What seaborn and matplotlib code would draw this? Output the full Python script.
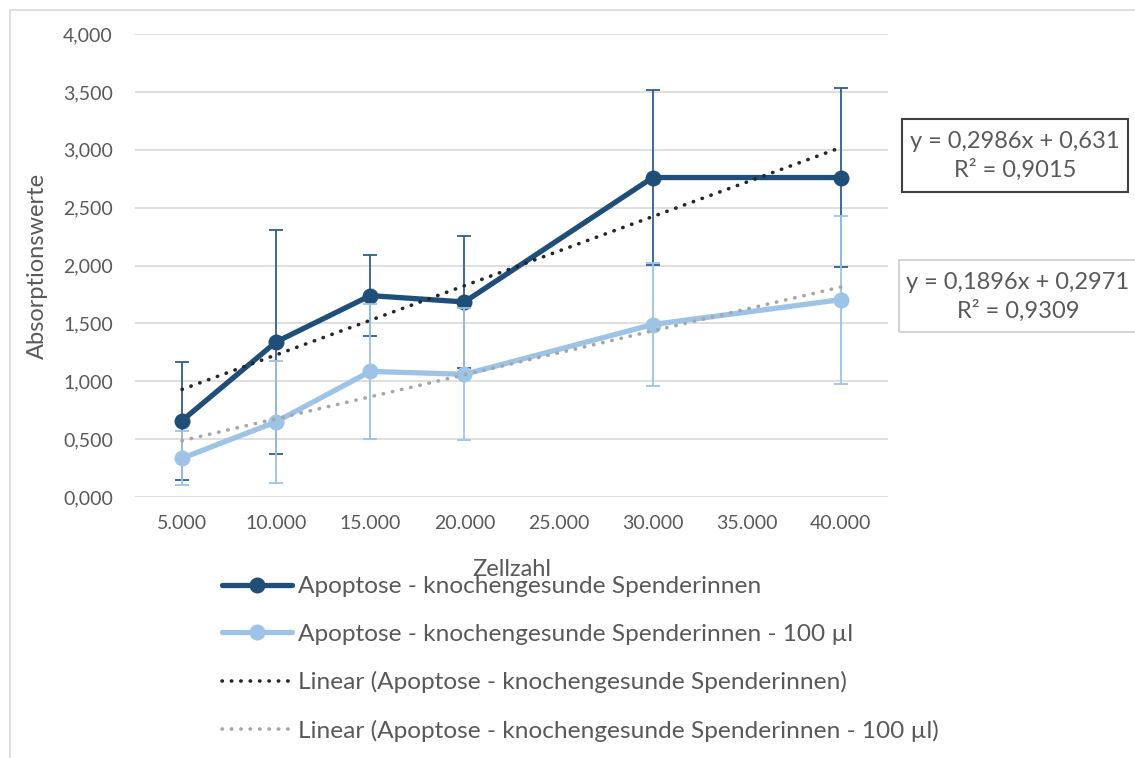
import numpy as np
import pandas as pd
import matplotlib
matplotlib.use("Agg")
import matplotlib.pyplot as plt
from matplotlib.lines import Line2D
from matplotlib.patches import Rectangle
import seaborn as sns

# Zellzahl categories (25.000 and 35.000 have no measurements)
categories = ["5.000", "10.000", "15.000", "20.000", "25.000", "30.000", "35.000", "40.000"]

# Mean absorption values and standard deviations
apoptose = [0.66, 1.34, 1.74, 1.685, np.nan, 2.76, np.nan, 2.76]
apoptose_sd = [0.51, 0.97, 0.35, 0.57, np.nan, 0.755, np.nan, 0.775]
apoptose_100 = [0.335, 0.65, 1.085, 1.06, np.nan, 1.49, np.nan, 1.705]
apoptose_100_sd = [0.235, 0.525, 0.585, 0.57, np.nan, 0.53, np.nan, 0.725]

# Linear trend lines (x = category number 1..8)
trend_slope = [0.2986, 0.1896]
trend_intercept = [0.631, 0.2971]
r_squared = [0.9015, 0.9309]

series_names = [
    "Apoptose - knochengesunde Spenderinnen",
    "Apoptose - knochengesunde Spenderinnen - 100 µl",
]
y_ticks = [0.0, 0.5, 1.0, 1.5, 2.0, 2.5, 3.0, 3.5, 4.0]

DARK = "#1F4E79"
DARK_ERR = "#2E5E8E"
LIGHT = "#9DC3E6"
TREND_DARK = "#262626"
TREND_LIGHT = "#A6A6A6"
TEXT = "#595959"
GRID = "#D9D9D9"

sns.set_theme(style="white")
plt.rcParams["font.family"] = ["Lato", "DejaVu Sans"]

fig = plt.figure(figsize=(11.35, 7.58), dpi=100)
ax = fig.add_axes([135 / 1135, 1 - 497 / 758, 753 / 1135, 463 / 758])

pos = np.arange(len(categories))
df = pd.DataFrame({
    "pos": np.concatenate([pos, pos]),
    "wert": apoptose + apoptose_100,
    "sd": apoptose_sd + apoptose_100_sd,
    "serie": [series_names[0]] * len(pos) + [series_names[1]] * len(pos),
}).dropna()

colors = [DARK, LIGHT]
err_colors = [DARK_ERR, LIGHT]
for i, name in enumerate(series_names):
    sub = df[df["serie"] == name]
    ax.errorbar(sub["pos"], sub["wert"], yerr=sub["sd"], fmt="none",
                ecolor=err_colors[i], elinewidth=1.3, capsize=4.8, capthick=1.3,
                zorder=2 + 2 * i)
    sns.lineplot(data=sub, x="pos", y="wert", color=colors[i], linewidth=3.8,
                 marker="o", markersize=11.5, markeredgewidth=0, sort=False,
                 legend=False, ax=ax, zorder=3 + 2 * i)

# Trend lines from the fitted equations
trend_colors = [TREND_DARK, TREND_LIGHT]
dot_style = (0, (0.1, 2.5))
for i in range(2):
    tdf = pd.DataFrame({"pos": pos, "wert": trend_slope[i] * (pos + 1) + trend_intercept[i]})
    sns.lineplot(data=tdf, x="pos", y="wert", color=trend_colors[i], linewidth=2.6,
                 legend=False, ax=ax, zorder=8)
    ln = ax.lines[-1]
    ln.set_linestyle(dot_style)
    ln.set_dash_capstyle("round")

ax.set_xlim(-0.5, len(categories) - 0.5)
ax.set_ylim(0, 4)
ax.set_xticks(pos)
ax.set_xticklabels(categories)
ax.set_yticks(y_ticks)
ax.set_yticklabels([f"{v:.3f}".replace(".", ",") for v in y_ticks])
ax.tick_params(axis="both", length=0, labelsize=14, labelcolor=TEXT)
ax.tick_params(axis="y", pad=16)
ax.tick_params(axis="x", pad=13)
ax.yaxis.grid(True, color=GRID, linewidth=1.2)
ax.set_axisbelow(True)
for s in ax.spines.values():
    s.set_visible(False)

ax.set_xlabel("Zellzahl", fontsize=17, color=TEXT, va="top")
ax.xaxis.set_label_coords(0.5, -0.134)
ax.set_ylabel("Absorptionswerte", fontsize=17, color=TEXT)
ax.yaxis.set_label_coords(-0.115, 0.5)

# Legend below the plot
handles = [
    Line2D([], [], color=DARK, lw=3.8, marker="o", markersize=11.5, markeredgewidth=0),
    Line2D([], [], color=LIGHT, lw=3.8, marker="o", markersize=11.5, markeredgewidth=0),
    Line2D([], [], color=TREND_DARK, lw=2.6, linestyle=dot_style, dash_capstyle="round"),
    Line2D([], [], color=TREND_LIGHT, lw=2.6, linestyle=dot_style, dash_capstyle="round"),
]
labels = [series_names[0], series_names[1],
          f"Linear ({series_names[0]})", f"Linear ({series_names[1]})"]
leg = fig.legend(handles, labels, loc="upper left",
                 bbox_to_anchor=(222 / 1135, 1 - 576 / 758),
                 frameon=False, fontsize=17.6, handlelength=2.85, handletextpad=0.25,
                 labelspacing=1.08, borderpad=0, borderaxespad=0)
for t in leg.get_texts():
    t.set_color(TEXT)


def dec(v):
    return str(v).replace(".", ",")


# Equation boxes
fig.add_artist(Rectangle((902 / 1135, 1 - 192 / 758), 226 / 1135, 73 / 758,
                         transform=fig.transFigure, fill=False,
                         edgecolor="#404040", linewidth=1.5))
fig.text(1015 / 1135, 1 - 156 / 758,
         f"y = {dec(trend_slope[0])}x + {dec(trend_intercept[0])}\nR² = {dec(r_squared[0])}",
         ha="center", va="center", multialignment="center", fontsize=17,
         color=TEXT, linespacing=1.38)
fig.add_artist(Rectangle((899 / 1135, 1 - 332 / 758), 260 / 1135, 72 / 758,
                         transform=fig.transFigure, fill=False,
                         edgecolor="#D0D0D0", linewidth=1.3, clip_on=False))
fig.text(1018 / 1135, 1 - 297 / 758,
         f"y = {dec(trend_slope[1])}x + {dec(trend_intercept[1])}\nR² = {dec(r_squared[1])}",
         ha="center", va="center", multialignment="center", fontsize=17,
         color=TEXT, linespacing=1.38)

# Chart frame
fig.add_artist(Rectangle((10 / 1135, -0.1), 1.2, 1.1 - 10 / 758,
                         transform=fig.transFigure, fill=False,
                         edgecolor=GRID, linewidth=1.2, clip_on=False))

fig.savefig("out.png", dpi=100)
